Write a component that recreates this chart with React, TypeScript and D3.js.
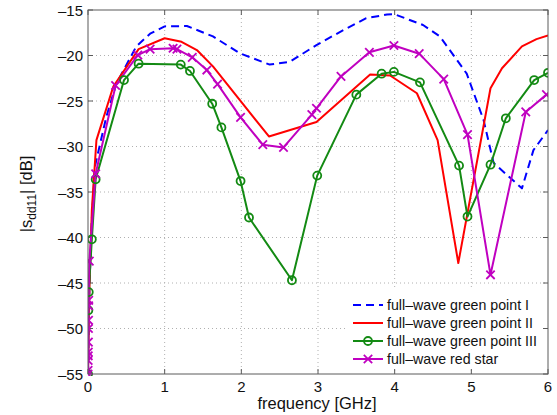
import React from "react";
import * as d3 from "d3";

// Frequency axis ticks [GHz] and magnitude ticks [dB]
const xTicks = [0, 1, 2, 3, 4, 5, 6];
const yTicks = [-15, -20, -25, -30, -35, -40, -45, -50, -55];

// full-wave green point I
const freqI = [0, 0.02, 0.05, 0.09, 0.24, 0.37, 0.63, 0.81, 1.0, 1.29, 1.63, 1.98, 2.37, 2.63, 2.98, 3.29, 3.63, 3.9, 3.99, 4.37, 4.59, 4.83, 4.94, 5.16, 5.29, 5.66, 5.81, 6.0];
const sddI = [-55, -45, -38, -32.2, -26.7, -23.1, -19.0, -17.6, -16.8, -16.76, -17.9, -19.76, -21.0, -20.7, -18.85, -17.4, -15.9, -15.5, -15.44, -16.65, -17.9, -20.7, -22.0, -27.1, -31.8, -34.6, -30.4, -28.2];

// full-wave green point II
const freqII = [0, 0.02, 0.05, 0.11, 0.33, 0.66, 1.0, 1.22, 1.42, 1.63, 2.36, 2.98, 3.68, 3.94, 4.29, 4.56, 4.83, 5.25, 5.4, 5.66, 5.85, 6.0];
const sddII = [-55, -45, -37, -29.3, -23.4, -19.3, -18.1, -18.5, -19.4, -21.2, -28.9, -27.3, -22.1, -22.2, -24.15, -29.3, -42.8, -23.6, -21.4, -19.0, -18.2, -17.8];

// full-wave green point III
const freqIII = [0, 0.005, 0.01, 0.05, 0.1, 0.47, 0.66, 1.21, 1.33, 1.62, 1.74, 1.99, 2.1, 2.66, 2.99, 3.5, 3.83, 3.99, 4.33, 4.84, 4.95, 5.25, 5.45, 5.82, 6.0];
const sddIII = [-55, -48, -46, -40.2, -33.6, -22.7, -20.9, -21.0, -21.7, -25.3, -27.9, -33.8, -37.8, -44.7, -33.2, -24.3, -22.0, -21.8, -22.95, -32.1, -37.7, -32.0, -26.9, -22.7, -21.9];

// full-wave red star
const freqStar = [0, 0.001, 0.002, 0.003, 0.004, 0.005, 0.006, 0.007, 0.008, 0.009, 0.017, 0.1, 0.36, 0.65, 0.81, 1.11, 1.16, 1.36, 1.55, 1.69, 1.99, 2.28, 2.55, 2.92, 2.98, 3.3, 3.67, 3.99, 4.32, 4.64, 4.95, 5.25, 5.71, 5.98];
const sddStar = [-55, -54.6, -53.5, -53.0, -52.6, -51.5, -50.0, -49.1, -47.5, -46.9, -42.6, -33.0, -23.3, -19.95, -19.3, -19.2, -19.3, -20.2, -21.6, -23.15, -26.8, -29.8, -30.1, -26.5, -25.8, -22.3, -19.65, -18.9, -19.8, -22.6, -28.7, -44.1, -26.2, -24.3];

const seriesLabels = [
  "full\u2013wave green point I",
  "full\u2013wave green point II",
  "full\u2013wave green point III",
  "full\u2013wave red star",
];

const W = 557;
const H = 415;
const left = 88;
const right = 548;
const top = 10;
const bottom = 374;

const FONT = "'Liberation Sans', Arial, Helvetica, sans-serif";
const AXIS = "#5a5a5a";

type Series = {
  f: number[];
  v: number[];
  color: string;
  dash?: string;
  marker?: "o" | "x";
  label: string;
};

const series: Series[] = [
  { f: freqI, v: sddI, color: "#0000ff", dash: "8,5", label: seriesLabels[0] },
  { f: freqII, v: sddII, color: "#ff0000", label: seriesLabels[1] },
  { f: freqIII, v: sddIII, color: "#138a13", marker: "o", label: seriesLabels[2] },
  { f: freqStar, v: sddStar, color: "#c000c0", marker: "x", label: seriesLabels[3] },
];

function Marker({ kind, x, y, color }: { kind?: "o" | "x"; x: number; y: number; color: string }) {
  if (kind === "o") {
    return <circle cx={x} cy={y} r={4} fill="none" stroke={color} strokeWidth={1.8} />;
  }
  if (kind === "x") {
    const s = 4.2;
    return (
      <g stroke={color} strokeWidth={1.8}>
        <line x1={x - s} y1={y - s} x2={x + s} y2={y + s} />
        <line x1={x - s} y1={y + s} x2={x + s} y2={y - s} />
      </g>
    );
  }
  return null;
}

export default function App() {
  const x = d3.scaleLinear().domain([0, 6]).range([left, right]);
  const y = d3.scaleLinear().domain([-55, -15]).range([bottom, top]);
  const line = d3
    .line<[number, number]>()
    .x((d) => x(d[0]))
    .y((d) => y(d[1]));

  const legendX = 347;
  const legendY = 290;
  const legendRows = [305, 323, 341, 359];

  return (
    <svg
      width={W}
      height={H}
      style={{ position: "absolute", left: 0, top: 0, background: "#fff" }}
      fontFamily={FONT}
    >
      <defs>
        <clipPath id="plotArea">
          <rect x={left} y={top - 2} width={right - left} height={bottom - top + 4} />
        </clipPath>
      </defs>
      <rect x={0} y={0} width={W} height={H} fill="#fff" />

      {/* dotted grid */}
      <g stroke="#b0b0b0" strokeWidth={1} strokeDasharray="1,3">
        {xTicks.slice(1, -1).map((t) => (
          <line key={"gx" + t} x1={x(t)} x2={x(t)} y1={top} y2={bottom} />
        ))}
        {yTicks.slice(1, -1).map((t) => (
          <line key={"gy" + t} x1={left} x2={right} y1={y(t)} y2={y(t)} />
        ))}
      </g>

      {/* ticks on all four sides */}
      <g stroke={AXIS} strokeWidth={1}>
        {xTicks.map((t) => (
          <g key={"tx" + t}>
            <line x1={x(t)} x2={x(t)} y1={bottom} y2={bottom - 5} />
            <line x1={x(t)} x2={x(t)} y1={top} y2={top + 5} />
          </g>
        ))}
        {yTicks.map((t) => (
          <g key={"ty" + t}>
            <line x1={left} x2={left + 5} y1={y(t)} y2={y(t)} />
            <line x1={right} x2={right - 5} y1={y(t)} y2={y(t)} />
          </g>
        ))}
      </g>

      {/* data */}
      <g clipPath="url(#plotArea)">
        {series.map((s, i) => (
          <path
            key={"p" + i}
            d={line(s.f.map((f, j) => [f, s.v[j]] as [number, number])) || ""}
            fill="none"
            stroke={s.color}
            strokeWidth={2}
            strokeDasharray={s.dash}
            strokeLinejoin="round"
          />
        ))}
        {series.map((s, i) =>
          s.marker ? (
            <g key={"m" + i}>
              {s.f.map((f, j) => (
                <Marker key={j} kind={s.marker} x={x(f)} y={y(s.v[j])} color={s.color} />
              ))}
            </g>
          ) : null
        )}
      </g>

      {/* axes box */}
      <rect x={left} y={top} width={right - left} height={bottom - top} fill="none" stroke={AXIS} strokeWidth={1} />

      {/* tick labels */}
      <g fontSize={15} fill="#111">
        {xTicks.map((t) => (
          <text key={"lx" + t} x={x(t)} y={bottom + 18} textAnchor="middle">
            {t}
          </text>
        ))}
        {yTicks.map((t) => (
          <text key={"ly" + t} x={left - 5} y={y(t) + 5.5} textAnchor="end">
            {"\u2013" + Math.abs(t)}
          </text>
        ))}
      </g>

      {/* axis labels */}
      <text x={(left + right) / 2 - 1} y={409} textAnchor="middle" fontSize={16.5} fill="#111">
        frequency [GHz]
      </text>
      <text transform={`translate(32, ${(top + bottom) / 2 + 2}) rotate(-90)`} textAnchor="middle" fontSize={16.5} fill="#111">
        |s
        <tspan fontSize={12} dy={4}>dd11</tspan>
        <tspan dy={-4}>| [dB]</tspan>
      </text>

      {/* legend */}
      <rect x={legendX} y={legendY} width={195} height={78} fill="#fff" stroke="none" />
      {series.map((s, i) => {
        const ry = legendRows[i];
        return (
          <g key={"lg" + i}>
            <line x1={353} x2={383} y1={ry} y2={ry} stroke={s.color} strokeWidth={2} strokeDasharray={s.dash} />
            <Marker kind={s.marker} x={368} y={ry} color={s.color} />
            <text x={387} y={ry + 5} fontSize={14.2} fill="#111">
              {s.label}
            </text>
          </g>
        );
      })}
    </svg>
  );
}
